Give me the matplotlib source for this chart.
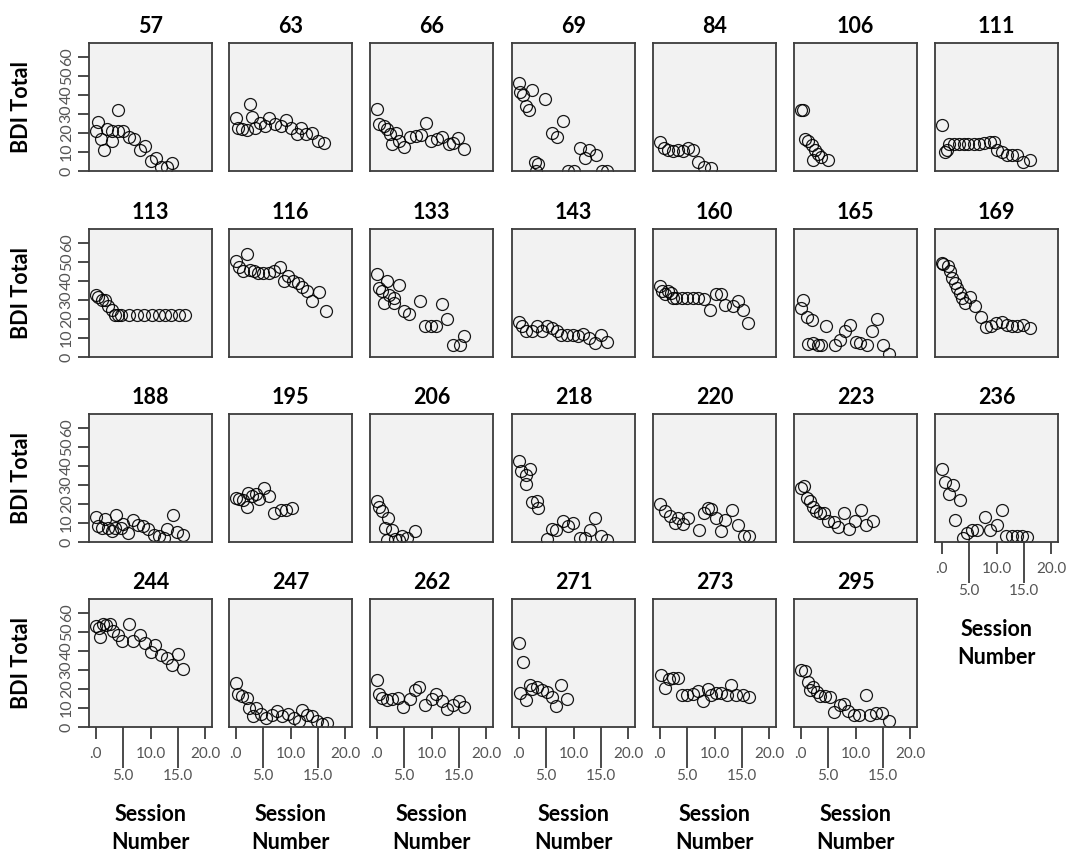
import matplotlib
matplotlib.use("Agg")
import matplotlib.pyplot as plt
from matplotlib.ticker import FixedLocator, FuncFormatter, NullLocator

plt.rcParams['font.family'] = ['Lato', 'DejaVu Sans']

# Session number / BDI total per client
sess_57 = [0, 0.5, 1, 1.5, 2, 3, 3, 4, 4, 5, 6, 7, 8, 9, 10, 11, 12, 13, 14]
bdi_57 = [21, 26, 17, 11, 22, 21, 16, 32, 21, 21, 18, 17, 11, 13, 5, 7, 2, 2, 4]

sess_63 = [0, 0.4, 1.2, 2, 2.7, 3, 3.5, 4.4, 5.3, 6.1, 7.1, 8.2, 9.1, 10, 11.1, 12, 12.9, 14, 15, 16.1]
bdi_63 = [28, 22.6, 22, 21.8, 35, 28.4, 22.8, 25, 23.5, 28, 24.6, 23.5, 26.7, 22.6, 19.6, 22.8, 19.3, 20, 15.8, 14.7]

sess_66 = [0, 0.5, 1.3, 1.9, 2.5, 2.8, 3.6, 4, 5, 6, 7.1, 8, 9, 9.9, 11, 12, 13.1, 14, 14.9, 16]
bdi_66 = [32.8, 24.6, 23.5, 22.3, 19.6, 14, 20, 16, 12.6, 18, 18.2, 18.8, 25, 16, 17, 17.9, 14, 14.7, 17.5, 11.8]

sess_69 = [0, 0.3, 0.8, 1.4, 1.9, 2.5, 2.9, 3.2, 3.6, 4.9, 6, 7, 8, 9, 10, 11.1, 12.1, 12.9, 14.1, 15.2, 16.1]
bdi_69 = [46.3, 41.6, 39.8, 34, 32, 42.8, 4.7, 0, 3.9, 38, 20, 17.9, 26.3, 0, 0, 12.3, 7, 11.2, 8.2, 0, 0]

sess_84 = [0, 0.8, 1.6, 2.5, 3.4, 4.3, 5.2, 6, 7, 8, 9.3]
bdi_84 = [15.3, 12.1, 11, 10.5, 11, 10.5, 12.1, 11, 4.7, 2.1, 1.6]

sess_106 = [0, 0.5, 0.8, 1.4, 2, 2.3, 2.6, 3.2, 3.8, 5]
bdi_106 = [32.3, 32.3, 17, 16, 13.5, 6, 11.2, 8.8, 7.4, 6]

sess_111 = [0, 0.6, 0.9, 1.3, 2.2, 3.1, 4, 4.9, 5.9, 6.8, 7.7, 8.8, 9.5, 10.1, 11, 11.9, 12.9, 13.8, 14.9, 16.1]
bdi_111 = [24, 10, 11, 14, 14.4, 14, 14, 14, 14, 14, 14.7, 15.3, 15.3, 10.9, 10, 8.2, 8.2, 8.2, 4.7, 6]

sess_113 = [0, 0.5, 1.1, 1.8, 2.3, 2.9, 3.5, 4.1, 4.7, 6, 7.5, 8.8, 10.2, 11.5, 12.7, 13.7, 15.1, 16.2]
bdi_113 = [32.5, 31.4, 30.2, 30.2, 26.7, 24.9, 22.3, 21.9, 22.3, 21.9, 21.9, 21.9, 21.9, 21.9, 21.9, 22.3, 21.9, 21.9]

sess_116 = [0, 0.6, 1.4, 2.1, 2.6, 3.3, 4.1, 5, 6, 7, 8.1, 8.8, 9.6, 10.4, 11.3, 12.1, 13, 13.9, 15.1, 16.4]
bdi_116 = [50.7, 47.2, 45.4, 53.9, 46, 45, 44.2, 44.2, 44.2, 45, 47.2, 39.8, 42.5, 40.2, 38.9, 36.7, 34.6, 29.3, 34.2, 24]

sess_133 = [0, 0.4, 1, 1.3, 1.9, 2.2, 3.1, 3.1, 4.1, 5, 5.9, 7.9, 8.8, 9.9, 10.9, 12, 12.9, 14, 15.1, 16]
bdi_133 = [43.7, 36.3, 34.6, 28.4, 40, 32.8, 31, 28.4, 38, 24.4, 22.6, 29.6, 16.1, 16.1, 16.1, 27.9, 20, 6.1, 6.1, 10.9]

sess_143 = [0, 0.7, 1.4, 2.4, 3.3, 4.2, 5.1, 6, 7, 7.8, 8.9, 9.9, 10.9, 11.8, 12.8, 14, 15, 16.1]
bdi_143 = [18.4, 16.1, 13.5, 13.5, 16.1, 13.5, 16.1, 15.3, 13.9, 11.4, 11.8, 11.8, 10.9, 12.1, 10, 7.4, 11.4, 7.9]

sess_160 = [0, 0.5, 1, 1.5, 2, 2.5, 3, 4, 5, 6, 7, 8, 9.1, 10.2, 11.1, 12, 13.3, 14.2, 15.1, 16.1]
bdi_160 = [37.4, 34.7, 33, 34.7, 33.8, 31.2, 31.2, 31.2, 31.2, 31.2, 31.2, 30.7, 24.9, 33.2, 33.2, 27.5, 26.7, 29.6, 24.9, 17.9]

sess_165 = [0.1, 0.5, 1.1, 1.4, 2, 2.3, 3.2, 3.8, 4.7, 6.3, 7.2, 8.1, 9, 10, 10.9, 12.1, 13, 13.9, 15, 16.1]
bdi_165 = [25.8, 30.2, 20.9, 6.8, 19.6, 7.4, 6.1, 6.1, 16.1, 6.5, 9.1, 13.5, 17, 7.9, 7.4, 6.1, 13.9, 20.2, 6.1, 1.6]

sess_169 = [0, 0.3, 1.1, 1.6, 1.9, 2.5, 2.8, 3.3, 3.7, 4.3, 5.2, 6.1, 7.2, 8.1, 9, 9.9, 11, 11.9, 12.8, 13.8, 14.8, 16.1]
bdi_169 = [49.5, 49, 47.7, 45, 41.6, 38.9, 36.3, 33.7, 31, 28.4, 31.4, 26.7, 20.9, 15.6, 16.1, 17.9, 18.4, 17, 16.1, 16.1, 17, 15.3]

sess_188 = [0, 0.4, 1.1, 1.8, 2.3, 2.9, 3.5, 3.8, 4.7, 5, 5.9, 6.9, 7.8, 8.7, 9.6, 10.6, 11.5, 12.4, 13, 14.1, 14.8, 15.9]
bdi_188 = [13.2, 8.2, 7.4, 12.1, 7.4, 5.6, 7.4, 14.4, 7.4, 9.6, 4.7, 11.4, 9.1, 8.2, 6.8, 3.9, 3, 2.1, 6.8, 14.4, 5.1, 3.9]

sess_195 = [0, 0.7, 1.4, 2, 2.3, 2.9, 3.8, 4.3, 5.2, 6.1, 7, 8.2, 9.1, 10.2]
bdi_195 = [23.2, 22.6, 22.3, 18.4, 26, 24, 25.4, 22.6, 28.4, 24, 15.3, 17, 17, 17.9]

sess_206 = [0, 0.4, 1, 1.5, 1.9, 2.1, 2.8, 3.4, 4, 4.7, 5.6, 7]
bdi_206 = [21.4, 18.4, 16.1, 7.4, 0.9, 12.6, 6.1, 1.6, 1.2, 3.3, 2.1, 5.6]

sess_218 = [0, 0.5, 1.3, 1.4, 2.1, 2.4, 3.3, 3.6, 5.1, 6, 6.9, 8, 9, 9.9, 11.1, 12.1, 13, 13.9, 15, 16.1]
bdi_218 = [42.5, 37.2, 35, 30.7, 38.2, 20.9, 21.4, 17.9, 1.6, 6.8, 6.1, 10.9, 8.2, 10, 2.1, 2.1, 6.1, 12.6, 3.3, 0.9]

sess_220 = [0, 1, 1.9, 2.8, 3.4, 4.3, 5.2, 7.1, 8, 8.9, 9.3, 10.2, 11.2, 12, 13.1, 14.2, 15.3, 16.3]
bdi_220 = [20, 16.1, 13.5, 10, 12.6, 9.5, 12.6, 6.1, 15.3, 17.9, 17.4, 12.6, 5.6, 11.4, 17, 9.1, 3, 3]

sess_223 = [0.1, 0.6, 1.1, 1.7, 2.3, 2.8, 3.5, 4.3, 5, 6, 6.9, 7.9, 8.9, 9.9, 11, 11.9, 13.1]
bdi_223 = [28.4, 29.3, 23.2, 21.4, 18.4, 16.1, 15, 15, 10.9, 10.4, 7.9, 15.3, 6.8, 10.9, 17, 9.1, 10.9]

sess_236 = [0, 0.6, 1.3, 2, 2.5, 3.4, 3.9, 4.6, 5.5, 6.4, 7.9, 8.8, 10, 11, 11.8, 12.8, 13.8, 14.7, 15.5]
bdi_236 = [38.4, 31.4, 25.4, 30.2, 11.4, 21.9, 2.1, 4.7, 6.5, 6.1, 13.2, 6.1, 9.1, 17, 3.3, 3.3, 3.3, 3.3, 2.6]

sess_244 = [0, 0.6, 0.8, 1.4, 1.9, 2.6, 3.2, 4.1, 4.9, 6, 6.9, 8, 9, 10.1, 10.9, 11.9, 13, 13.9, 15, 16]
bdi_244 = [53, 52, 47.4, 54, 53.5, 54, 50.5, 48.2, 45.4, 53.9, 45, 48.2, 44, 39.6, 43, 38, 36.3, 32.5, 38.4, 30.7]

sess_247 = [0, 0.4, 1.2, 2, 2.5, 3.1, 3.8, 4.7, 5.6, 6.6, 7.5, 8.4, 9.5, 10.6, 11.5, 12.1, 13, 13.9, 14.8, 15.8, 16.6]
bdi_247 = [23.2, 17.4, 16.1, 15.3, 10, 5.6, 10, 6.8, 4.7, 6.5, 8.2, 5.6, 6.8, 4.7, 3.3, 9.1, 6.1, 5.6, 3, 1.6, 2.1]

sess_262 = [0, 0.5, 1, 1.9, 2.8, 3.9, 4.9, 6, 7, 7.8, 8.9, 10, 10.9, 12, 12.9, 14, 15, 16]
bdi_262 = [24.9, 17.4, 15.3, 14.4, 14.9, 15.3, 10.4, 14.9, 19.6, 20.9, 11.4, 14.9, 17.4, 13.9, 9.6, 11.4, 13.9, 10.4]

sess_271 = [0, 0.3, 0.8, 1.4, 2.1, 2.5, 3.3, 4.2, 5.1, 6, 6.9, 7.8, 8.9]
bdi_271 = [44.2, 17.9, 34.2, 14.4, 22.3, 20.2, 20.9, 19.6, 18.4, 15.6, 10.9, 21.9, 14.9]

sess_273 = [0.3, 0.9, 1.7, 2.5, 3.4, 4.1, 5, 6.1, 7, 7.9, 8.8, 9.3, 10.2, 11.2, 12.2, 13, 14, 15.1, 16.3]
bdi_273 = [27.6, 20.5, 25, 25.8, 25.8, 17, 16.7, 17.4, 18.9, 13.5, 19.8, 17, 17.9, 17.9, 17, 22.3, 17, 16.7, 15.6]

sess_295 = [0.1, 0.8, 1.4, 1.7, 2.3, 2.9, 3.5, 4.4, 5.4, 6, 7.2, 7.9, 8.7, 9.8, 10.7, 12, 12.7, 13.8, 14.8, 16.1]
bdi_295 = [30.2, 29.6, 23.7, 19.6, 20.9, 18.4, 16.1, 16.1, 15.6, 7.9, 11.8, 12.1, 8.2, 6.5, 6.1, 16.7, 6.5, 7.4, 7.4, 3.3]

client_ids = [57, 63, 66, 69, 84, 106, 111,
              113, 116, 133, 143, 160, 165, 169,
              188, 195, 206, 218, 220, 223, 236,
              244, 247, 262, 271, 273, 295]
x_ticks_major = [0, 10, 20]
x_ticks_minor = [5, 15]
y_ticks = [0, 10, 20, 30, 40, 50, 60]

series = {cid: (globals()["sess_%d" % cid], globals()["bdi_%d" % cid]) for cid in client_ids}

# ---- layout (pixels on a 1077 x 852 canvas) ----
W, H = 1077, 852
col_left = [89, 229, 370, 512, 653, 794, 935]
row_top = [43, 229, 414, 599]
pw, ph = 123, 128
ncols = 7

fig = plt.figure(figsize=(W / 100, H / 100), dpi=100)
fig.patch.set_facecolor("white")

tick_color = "#1a1a1a"
label_grey = "#555555"


def session_fmt(v, pos=None):
    s = "%.1f" % v
    return s[1:] if s.startswith("0") else s


for i, cid in enumerate(client_ids):
    r, c = divmod(i, ncols)
    left = col_left[c]
    top = row_top[r]
    ax = fig.add_axes([left / W, 1 - (top + ph) / H, pw / W, ph / H])
    ax.set_facecolor("#f2f2f2")
    xs, ys = series[cid]
    ax.plot(xs, ys, linestyle="none", marker="o", ms=8.6, mfc="none",
            mec="black", mew=0.9, alpha=0.9)
    ax.set_xlim(-1.2, 21.2)
    ax.set_ylim(0, 67.3)
    for sp in ax.spines.values():
        sp.set_color("#3c3c3c")
        sp.set_linewidth(1.3)
    ax.set_title(str(cid), fontsize=15.5, fontweight="bold", pad=7.5)

    # y axis only on the first column
    if c == 0:
        ax.yaxis.set_major_locator(FixedLocator(y_ticks))
        ax.tick_params(axis="y", length=8, width=1.1, color=tick_color,
                       pad=3.0, labelsize=11.5, labelcolor=label_grey)
        for lab in ax.get_yticklabels():
            lab.set_rotation(90)
            lab.set_va("center")
            lab.set_ha("right")
        fig.text(22 / W, 1 - (top + ph / 2) / H, "BDI Total", rotation=90,
                 ha="center", va="center", fontsize=15.5, fontweight="bold")
    else:
        ax.yaxis.set_major_locator(NullLocator())

    # x axis only under the last panel of each column
    bottom_panel = (r == 3) or (r == 2 and c == 6)
    if bottom_panel:
        ax.xaxis.set_major_locator(FixedLocator(x_ticks_major))
        ax.xaxis.set_minor_locator(FixedLocator(x_ticks_minor))
        ax.xaxis.set_major_formatter(FuncFormatter(session_fmt))
        ax.xaxis.set_minor_formatter(FuncFormatter(session_fmt))
        ax.tick_params(axis="x", which="major", length=8.6, width=1.1,
                       color=tick_color, pad=6.0, labelsize=11,
                       labelcolor=label_grey)
        ax.tick_params(axis="x", which="minor", length=29.5, width=1.1,
                       color=tick_color, pad=0.5, labelsize=11,
                       labelcolor=label_grey)
        ax.annotate("Session\nNumber", xy=(0.5, 0), xycoords="axes fraction",
                    xytext=(0, -73), textcoords="offset points",
                    ha="center", va="center", fontsize=15.5,
                    fontweight="bold", linespacing=1.4)
    else:
        ax.xaxis.set_major_locator(NullLocator())
        ax.xaxis.set_minor_locator(NullLocator())

fig.savefig("out.png", dpi=100, facecolor="white")
